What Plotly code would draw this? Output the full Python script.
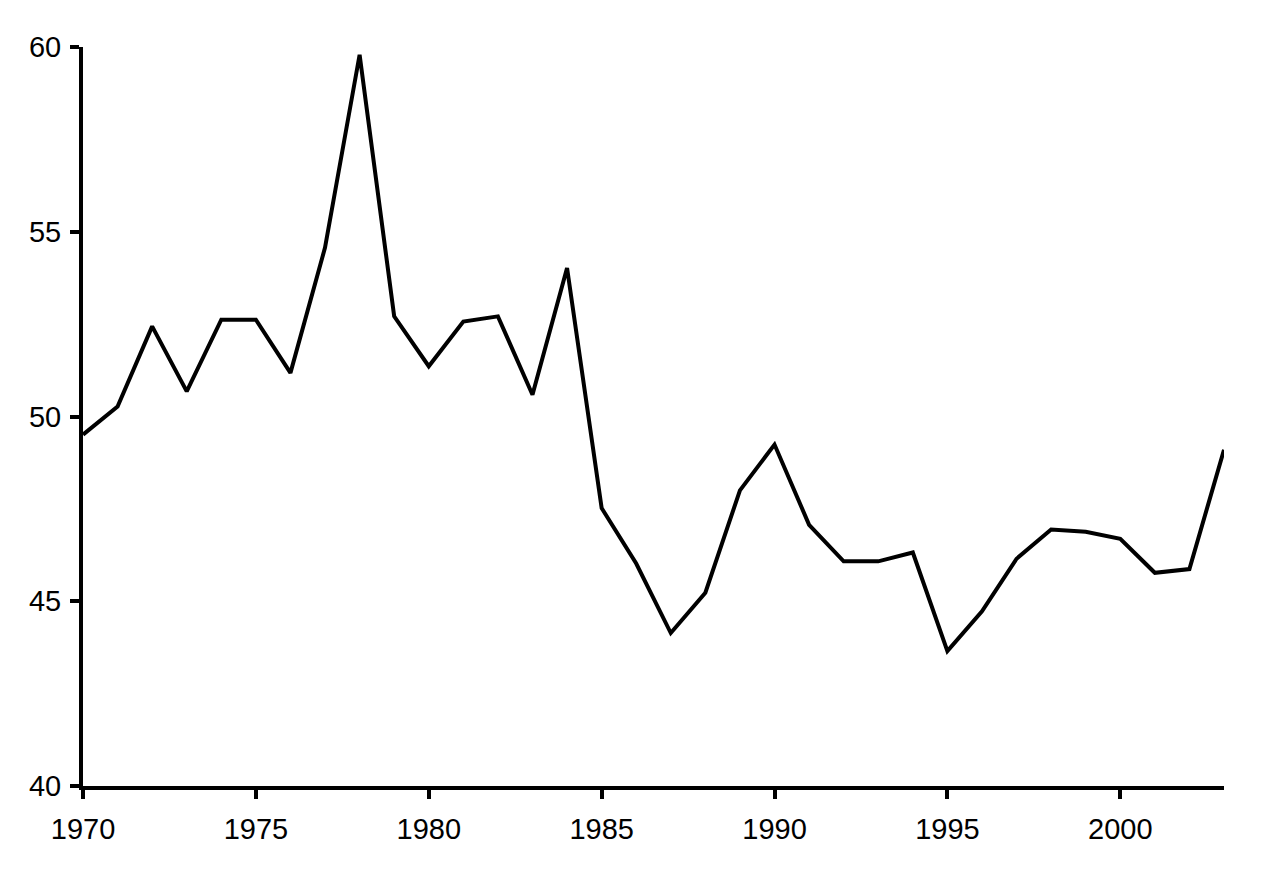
import plotly.graph_objects as go

years = list(range(1970, 2004))
values = [49.51, 50.27, 52.44, 50.68, 52.62, 52.62, 51.18, 54.57, 59.79, 52.71,
          51.36, 52.57, 52.71, 50.59, 54.02, 47.52, 46.02, 44.14, 45.23, 48.00,
          49.24, 47.07, 46.08, 46.08, 46.32, 43.65, 44.73, 46.15, 46.94, 46.88,
          46.69, 45.77, 45.87, 49.10]
x_ticks = [1970, 1975, 1980, 1985, 1990, 1995, 2000]
y_ticks = [40, 45, 50, 55, 60]

fig = go.Figure()
fig.add_trace(go.Scatter(x=years, y=values, mode="lines",
                         line=dict(color="black", width=4), showlegend=False))

fig.update_layout(
    width=1268, height=863,
    paper_bgcolor="white", plot_bgcolor="white",
    margin=dict(l=75, r=52, t=39, b=85, autoexpand=False),
    font=dict(family="Liberation Sans, Arial, sans-serif", size=29, color="black"),
)
fig.update_xaxes(range=[1970, 2003], tickvals=x_ticks, showgrid=False, zeroline=False,
                 showline=True, linecolor="black", linewidth=4, automargin=False,
                 ticks="outside", ticklen=9, tickwidth=4, tickcolor="black",
                 ticklabelstandoff=5)
fig.update_yaxes(range=[40, 60], tickvals=y_ticks, showgrid=False, zeroline=False,
                 showline=True, linecolor="black", linewidth=4, automargin=False,
                 ticks="outside", ticklen=9, tickwidth=4, tickcolor="black",
                 ticklabelstandoff=3)

fig.write_html("out.html")
